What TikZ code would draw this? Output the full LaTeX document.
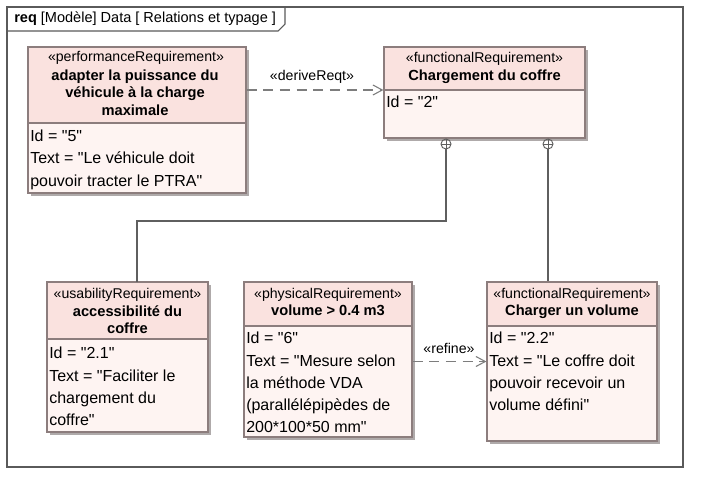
\documentclass[tikz,border=0pt]{standalone}
\usepackage{fontspec}
\setmainfont{Liberation Sans}[Ligatures=TeXOff]
\usetikzlibrary{fit,arrows.meta,calc}
\definecolor{hdr}{RGB}{250,226,223}
\definecolor{bodyc}{RGB}{254,244,242}
\definecolor{bord}{RGB}{140,125,125}
\definecolor{shad}{RGB}{175,170,170}
\definecolor{conn}{RGB}{95,95,95}
\definecolor{dashc}{RGB}{125,125,125}
\definecolor{framec}{RGB}{90,90,90}
\newcommand\ReqBox[6]{%
  \fill[shad] (#2+3,#3+3) rectangle (#4+3,#5+3);
  \fill[bodyc] (#2,#3) rectangle (#4,#5);
  \fill[hdr] (#2,#3) rectangle (#4,#6);
  \draw[bord,line width=0.9pt] (#2,#6) -- (#4,#6);
  \node[draw=bord,line width=0.9pt,fit={(#2,#3) (#4,#5)},inner sep=0pt] (#1) {};
}
\begin{document}
\begin{tikzpicture}[x=0.75pt,y=-0.75pt,
  stereo/.style={font=\fontsize{10.6}{12}\selectfont,anchor=north,inner sep=0pt},
  rtitle/.style={font=\fontsize{11}{12.8}\selectfont\bfseries,align=center,anchor=north,inner sep=0pt},
  attr/.style={font=\fontsize{12}{16.6}\selectfont,align=left,anchor=north west,inner sep=0pt},
  lbl/.style={font=\fontsize{10.6}{12}\selectfont,inner sep=0pt},
  dep/.style={dashc,line width=0.8pt,dash pattern=on 7.5pt off 5pt,
    -{Straight Barb[length=7pt,width=7.5pt,line width=0.8pt]}},
  contain/.style={conn,line width=0.8pt},
  plusc/.style={circle,draw=conn,line width=0.7pt,minimum size=7.5pt,inner sep=0pt}]
\useasboundingbox (0,0) rectangle (702,485);
\fill[white] (0,0) rectangle (702,485);
% frame
\draw[framec,line width=0.8pt] (7,7) rectangle (683,467);
\draw[framec,line width=0.8pt] (7,31) -- (278,31) -- (285,24) -- (285,7);
\node[anchor=west,inner sep=0pt,font=\fontsize{10.9}{12}\selectfont] (frametitle) at (14,19)
  {\textbf{req} [Modèle] Data [ Relations et typage ]};
% boxes
\ReqBox{b1}{28}{47}{246}{193}{123}
\ReqBox{b2}{384}{47}{585}{138}{90}
\ReqBox{b3}{47}{282}{208}{432}{339}
\ReqBox{b4}{244}{282}{412}{437}{326}
\ReqBox{b5}{487}{282}{657}{441}{326}
% texts b1
\node[stereo] (b1s) at (136,51) {«performanceRequirement»};
\node[rtitle] (b1t) at (135,70) {adapter la puissance du\\véhicule à la charge\\maximale};
\node[attr] (b1a) at (30,130) {Id = "5"\\Text = "Le véhicule doit\\pouvoir tracter le PTRA"};
% texts b2
\node[stereo] (b2s) at (484.5,52) {«functionalRequirement»};
\node[rtitle] (b2t) at (484.5,70) {Chargement du coffre};
\node[attr] (b2a) at (386,96) {Id = "2"};
% texts b3
\node[stereo] (b3s) at (127.5,288) {«usabilityRequirement»};
\node[rtitle] (b3t) at (127.5,305) {accessibilité du\\coffre};
\node[attr] (b3a) at (49,347) {Id = "2.1"\\Text = "Faciliter le\\chargement du\\coffre"};
% texts b4
\node[stereo] (b4s) at (328,288) {«physicalRequirement»};
\node[rtitle] (b4t) at (328,305) {volume > 0.4 m3};
\node[attr] (b4a) at (246,332) {Id = "6"\\Text = "Mesure selon\\la méthode VDA\\(parallélépipèdes de\\200*100*50 mm"};
% texts b5
\node[stereo] (b5s) at (572,288) {«functionalRequirement»};
\node[rtitle] (b5t) at (572,305) {Charger un volume};
\node[attr] (b5a) at (489,332) {Id = "2.2"\\Text = "Le coffre doit\\pouvoir recevoir un\\volume défini"};
% dependencies
\coordinate (d2) at ($(b2.west)+(0,-2.5)$);
\draw[dep] (d2 -| b1.east) -- (d2);
\node[lbl] (l1) at (312,77) {«deriveReqt»};
\draw[dep] (b5.west -| b4.east) -- (b5.west);
\node[lbl] (l2) at (449,348) {«refine»};
% containment
\node[plusc] (p1) at (446,144) {};
\draw[conn,line width=0.6pt] (p1.north) -- (p1.south) (p1.west) -- (p1.east);
\node[plusc] (p2) at (548,144) {};
\draw[conn,line width=0.6pt] (p2.north) -- (p2.south) (p2.west) -- (p2.east);
\coordinate (a3) at (137,282);
\draw[contain] (p1.south) -- (p1.south |- 0,221) -| (a3);
\draw[contain] (p2.south) -- (p2.south |- b5.north);
\end{tikzpicture}
\end{document}
